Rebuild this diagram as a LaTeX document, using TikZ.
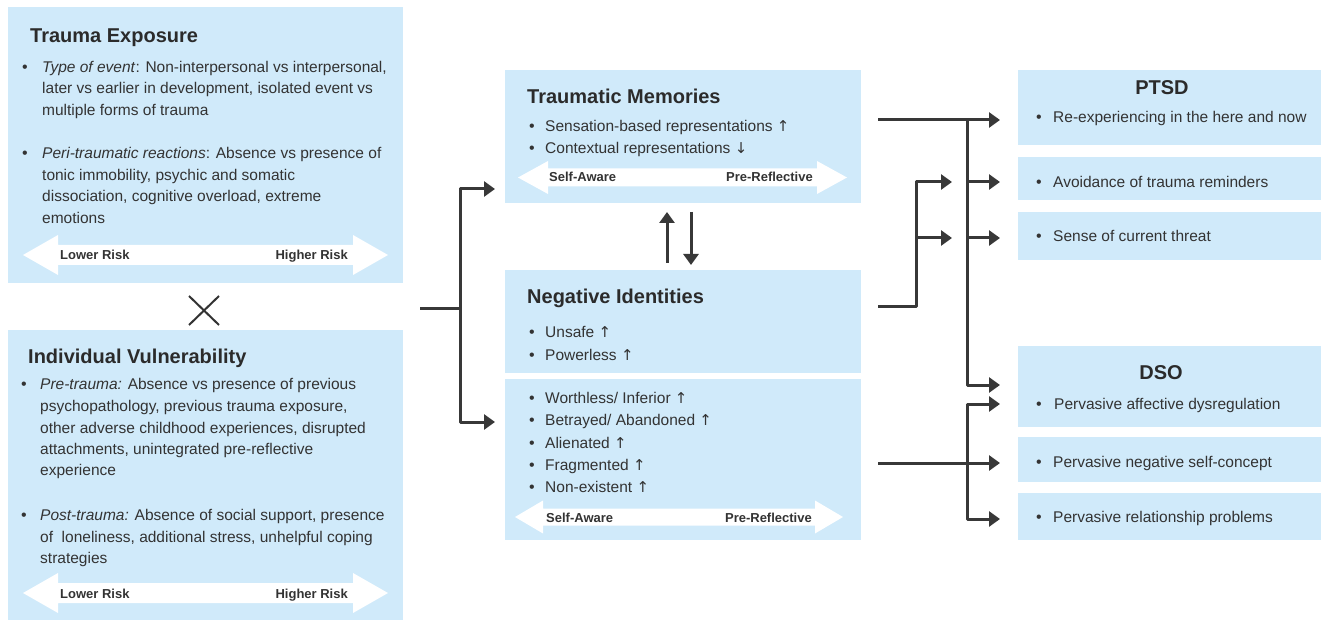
\documentclass[tikz,border=0pt]{standalone}
\usepackage{fontspec}
\setmainfont{Liberation Sans}
\newfontfamily\symf{DejaVu Sans}
\usetikzlibrary{arrows.meta}
\definecolor{boxblue}{RGB}{208,234,250}
\definecolor{ink}{RGB}{51,51,51}
\definecolor{lineink}{RGB}{56,56,56}
\newcommand\upar{{\symf\fontsize{15}{17}\selectfont ↑}}
\newcommand\dnar{{\symf\fontsize{15}{17}\selectfont ↓}}
\newcommand\wdarrow[7]{%
  \fill[white] (#1,#5) -- (#2,#5-#7) -- (#2,#5-#6) -- (#3,#5-#6) -- (#3,#5-#7) -- (#4,#5)
    -- (#3,#5+#7) -- (#3,#5+#6) -- (#2,#5+#6) -- (#2,#5+#7) -- cycle;}
\tikzset{
  box/.style={fill=boxblue, draw=none, inner sep=0pt, anchor=north west},
  body/.style={anchor=base west, inner sep=0pt, text=ink, font=\fontsize{15.5}{18}\selectfont},
  bul/.style={anchor=base, inner sep=0pt, text=ink, font=\fontsize{16}{18}\selectfont},
  ttl/.style={anchor=base west, inner sep=0pt, text=ink!85!black, font=\fontsize{20}{24}\selectfont\bfseries},
  risk/.style={inner sep=0pt, text=ink, font=\fontsize{13}{15}\selectfont\bfseries},
  conn/.style={draw=lineink, line width=3pt, line join=round},
  arr/.style={conn, -{Triangle[length=11pt,width=15pt]}},
  arrboth/.style={conn, {Triangle[length=11pt,width=15pt]}-{Triangle[length=11pt,width=15pt]}},
}
\begin{document}
\begin{tikzpicture}[x=1pt,y=-1pt]
\useasboundingbox (0,0) rectangle (1322,620);
\fill[white] (0,0) rectangle (1322,620);

% ---------- boxes ----------
\node[box, minimum width=395pt, minimum height=276pt] (te) at (8,7) {};
\node[box, minimum width=395pt, minimum height=290pt] (iv) at (8,330) {};
\node[box, minimum width=356pt, minimum height=133pt] (tm) at (505,70) {};
\node[box, minimum width=356pt, minimum height=103pt] (ni) at (505,270) {};
\node[box, minimum width=356pt, minimum height=161pt] (nib) at (505,379) {};
\node[box, minimum width=303pt, minimum height=75pt] (ptsd) at (1018,70) {};
\node[box, minimum width=303pt, minimum height=43pt] (avo) at (1018,157) {};
\node[box, minimum width=303pt, minimum height=48pt] (thr) at (1018,212) {};
\node[box, minimum width=303pt, minimum height=81pt] (dso) at (1018,346) {};
\node[box, minimum width=303pt, minimum height=45pt] (nsc) at (1018,437) {};
\node[box, minimum width=303pt, minimum height=47pt] (rel) at (1018,493) {};

% ---------- white double arrows ----------
\wdarrow{23}{58}{353}{388}{255}{10}{20}
\wdarrow{23}{58}{353}{388}{593}{10}{20}
\wdarrow{518}{548}{817}{847}{177.5}{9}{16.5}
\wdarrow{515}{543}{815}{843}{517}{8.5}{16.5}

% ---------- Trauma Exposure ----------
\node[ttl] (teT) at (30,43) {Trauma Exposure};
\node[bul] (teb1) at (25,73) {•};
\node[body] (te1) at (42,73) {\textit{Type of event}: Non-interpersonal vs interpersonal,};
\node[body] (te2) at (42,94) {later vs earlier in development, isolated event vs};
\node[body] (te3) at (42,116) {multiple forms of trauma};
\node[bul] (teb2) at (25,159) {•};
\node[body] (te4) at (42,159) {\textit{Peri-traumatic reactions}: Absence vs presence of};
\node[body] (te5) at (42,181) {tonic immobility, psychic and somatic};
\node[body] (te6) at (42,202) {dissociation, cognitive overload, extreme};
\node[body] (te7) at (42,224) {emotions};
\node[risk, anchor=base west] (teL) at (60,260) {Lower Risk};
\node[risk, anchor=base east] (teH) at (348,260) {Higher Risk};

% cross
\draw[line width=2pt, ink] (189,296) -- (219,325) (189,325) -- (219,296);

% ---------- Individual Vulnerability ----------
\node[ttl] (ivT) at (28,363) {Individual Vulnerability};
\node[bul] (ivb1) at (24,389) {•};
\node[body] (iv1) at (40,389) {\textit{Pre-trauma:} Absence vs presence of previous};
\node[body] (iv2) at (40,411) {psychopathology, previous trauma exposure,};
\node[body] (iv3) at (40,433) {other adverse childhood experiences, disrupted};
\node[body] (iv4) at (40,454) {attachments, unintegrated pre-reflective};
\node[body] (iv5) at (40,475) {experience};
\node[bul] (ivb2) at (24,520) {•};
\node[body] (iv6) at (40,520) {\textit{Post-trauma:} Absence of social support, presence};
\node[body] (iv7) at (40,542) {of\ \ loneliness, additional stress, unhelpful coping};
\node[body] (iv8) at (40,563) {strategies};
\node[risk, anchor=base west] (ivL) at (60,598) {Lower Risk};
\node[risk, anchor=base east] (ivH) at (348,598) {Higher Risk};

% ---------- Traumatic Memories ----------
\node[ttl] (tmT) at (527,104) {Traumatic Memories};
\node[bul] (tmb1) at (532,132) {•};
\node[body] (tm1) at (545,132) {Sensation-based representations \upar};
\node[bul] (tmb2) at (532,154) {•};
\node[body] (tm2) at (545,154) {Contextual representations \dnar};
\node[risk, anchor=base west] (tmL) at (549,182) {Self-Aware};
\node[risk, anchor=base east] (tmR) at (813,182) {Pre-Reflective};

% ---------- Negative Identities ----------
\node[ttl] (niT) at (527,303) {Negative Identities};
\node[bul] (nib1) at (532,337) {•};
\node[body] (ni1) at (545,337) {Unsafe \upar};
\node[bul] (nib2) at (532,360) {•};
\node[body] (ni2) at (545,360) {Powerless \upar};
\node[bul] (nib3) at (532,403) {•};
\node[body] (ni3) at (545,403) {Worthless/ Inferior \upar};
\node[bul] (nib4) at (532,425) {•};
\node[body] (ni4) at (545,425) {Betrayed/ Abandoned \upar};
\node[bul] (nib5) at (532,448) {•};
\node[body] (ni5) at (545,448) {Alienated \upar};
\node[bul] (nib6) at (532,470) {•};
\node[body] (ni6) at (545,470) {Fragmented \upar};
\node[bul] (nib7) at (532,492) {•};
\node[body] (ni7) at (545,492) {Non-existent \upar};
\node[risk, anchor=base west] (niL) at (546,522) {Self-Aware};
\node[risk, anchor=base east] (niR) at (812,522) {Pre-Reflective};

% ---------- PTSD ----------
\node[ttl, anchor=base] (ptsdT) at (1162,95) {PTSD};
\node[bul] (pb1) at (1039,123) {•};
\node[body] (p1) at (1053,123) {Re-experiencing in the here and now};
\node[bul] (pb2) at (1039,188) {•};
\node[body] (p2) at (1053,188) {Avoidance of trauma reminders};
\node[bul] (pb3) at (1039,242) {•};
\node[body] (p3) at (1053,242) {Sense of current threat};

% ---------- DSO ----------
\node[ttl, anchor=base] (dsoT) at (1161,379) {DSO};
\node[bul] (db1) at (1039,409) {•};
\node[body] (d1) at (1054,409) {Pervasive affective dysregulation};
\node[bul] (db2) at (1039,467) {•};
\node[body] (d2) at (1053,467) {Pervasive negative self-concept};
\node[bul] (db3) at (1039,522) {•};
\node[body] (d3) at (1053,522) {Pervasive relationship problems};

% ---------- connectors ----------
\coordinate (lsrc) at (420,308);
\coordinate (lj) at (460,308);
\coordinate (ltm) at (495,189);
\coordinate (lnib) at (495,422);
\draw[conn] (lsrc) -- (lj);
\draw[arrboth] (ltm) -| (lj) |- (lnib);

% between memories and identities
\coordinate (upA) at (667,263);
\coordinate (upB) at (667,212);
\coordinate (dnA) at (691,212);
\coordinate (dnB) at (691,265);
\draw[arr] (upA) -- (upB);
\draw[arr] (dnA) -- (dnB);

% right side: from traumatic memories
\coordinate (tmsrc) at (878,120);
\coordinate (tmj) at (967,120);
\coordinate (tPt) at (1000,120);
\coordinate (tAv) at (1000,182);
\coordinate (tTh) at (1000,238);
\coordinate (tDs) at (1000,385);
\draw[arr] (tmsrc) -- (tPt);
\draw[arr] (tmj) |- (tDs);
\draw[arr] (tmj |- tAv) -- (tAv);
\draw[arr] (tmj |- tTh) -- (tTh);

% from negative identities (top)
\coordinate (nisrc) at (878,306);
\coordinate (nij) at (916,306);
\coordinate (iAv) at (952,182);
\coordinate (iTh) at (952,238);
\draw[arr] (nisrc) -| (nij |- iAv) -- (iAv);
\draw[arr] (nij |- iTh) -- (iTh);

% from negative identities (bottom)
\coordinate (nbsrc) at (878,463);
\coordinate (bNs) at (1000,463);
\coordinate (bDs) at (1000,404);
\coordinate (bRe) at (1000,519);
\draw[arr] (nbsrc) -- (bNs);
\draw[arrboth] (bDs) -- (967,404) -- (967,519) -- (bRe);
\end{tikzpicture}
\end{document}
